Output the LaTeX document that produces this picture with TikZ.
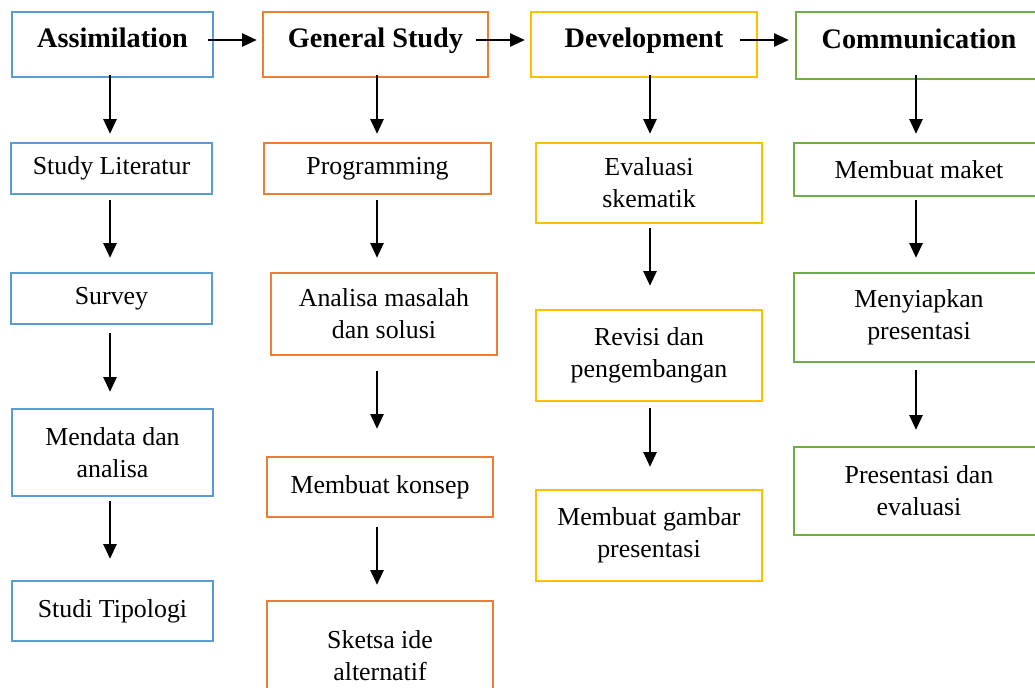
\documentclass[tikz,border=0pt]{standalone}
\usepackage{fontspec}
\setmainfont{Liberation Serif}
\usepackage{xcolor}
\usepackage{tikz}
\usetikzlibrary{arrows.meta}
\definecolor{blue}{RGB}{91,155,213}
\definecolor{orange}{RGB}{237,125,49}
\definecolor{yellow}{RGB}{255,192,0}
\definecolor{green}{RGB}{112,173,71}

\begin{document}
\begin{tikzpicture}[
    x=0.75pt, y=-0.75pt,
    every node/.style={font=\fontsize{19.4}{24}\selectfont, align=center, inner sep=0pt, line width=1.9pt},
    box/.style 2 args={minimum width=#1*0.75pt, minimum height=#2*0.75pt},
    header/.style={font=\fontsize{21.2}{26}\selectfont\bfseries, text height=15pt, text depth=11pt},
    flow/.style={-{Triangle[length=11pt, width=10pt]}, line width=1.1pt}
]
\clip (0,0) rectangle (1035,687);

\node[draw=blue, box={201}{65}, header] (asim) at (112.5,44.5) {Assimilation};
\node[draw=blue, box={201}{51}] (studi) at (111.5,168.5) {Study Literatur};
\node[draw=blue, box={201}{51}] (survey) at (111.5,298.5) {Survey};
\node[draw=blue, box={201}{87}] (mendata) at (112.5,452.5) {Mendata dan\\analisa};
\node[draw=blue, box={201}{60}] (tipologi) at (112.5,611) {Studi Tipologi};

\node[draw=orange, box={225}{65}, header] (general) at (375.5,44.5) {General Study};
\node[draw=orange, box={227}{51}] (program) at (377.5,168.5) {Programming};
\node[draw=orange, box={226}{82}] (analisa) at (384,314) {Analisa masalah\\dan solusi};
\node[draw=orange, box={226}{60}] (konsep) at (380,487) {Membuat konsep};
\node[draw=orange, box={226}{110}] (sketsa) at (380,656) {Sketsa ide\\alternatif};

\node[draw=yellow, box={226}{65}, header] (develop) at (644,44.5) {Development};
\node[draw=yellow, box={226}{80}] (evaluasi) at (649,183) {Evaluasi\\skematik};
\node[draw=yellow, box={226}{91}] (revisi) at (649,355.5) {Revisi dan\\pengembangan};
\node[draw=yellow, box={226}{91}] (gambar) at (649,535.5) {Membuat gambar\\presentasi};

\node[draw=green, box={246}{67}, header] (komunikasi) at (919,45.5) {Communication};
\node[draw=green, box={250}{53}] (maket) at (919,169.5) {Membuat maket};
\node[draw=green, box={250}{89}] (menyiapkan) at (919,317.5) {Menyiapkan\\presentasi};
\node[draw=green, box={250}{88}] (presentasi) at (919,491) {Presentasi dan\\evaluasi};

\coordinate (row) at (0,40);
\coordinate (k1) at (110,0);
\coordinate (k2) at (377,0);
\coordinate (k3) at (650,0);
\coordinate (k4) at (916,0);

\draw[flow, shorten <=-4.5pt, shorten >=3.75pt] (asim.east |- row) -- (general.west |- row);
\draw[flow, shorten <=-9.75pt, shorten >=3.75pt] (general.east |- row) -- (develop.west |- row);
\draw[flow, shorten <=-13.5pt, shorten >=4.5pt] (develop.east |- row) -- (komunikasi.west |- row);

\draw[flow, shorten <=-2.25pt, shorten >=6pt] (asim.south -| k1) -- (studi.north -| k1);
\draw[flow, shorten <=3.75pt, shorten >=10.5pt] (studi.south -| k1) -- (survey.north -| k1);
\draw[flow, shorten <=6pt, shorten >=12pt] (survey.south -| k1) -- (mendata.north -| k1);
\draw[flow, shorten <=3pt, shorten >=15.75pt] (mendata.south -| k1) -- (tipologi.north -| k1);

\draw[flow, shorten <=-2.25pt, shorten >=6pt] (general.south -| k2) -- (program.north -| k2);
\draw[flow, shorten <=3.75pt, shorten >=10.5pt] (program.south -| k2) -- (analisa.north -| k2);
\draw[flow, shorten <=11.25pt, shorten >=20.25pt] (analisa.south -| k2) -- (konsep.north -| k2);
\draw[flow, shorten <=6.75pt, shorten >=11.25pt] (konsep.south -| k2) -- (sketsa.north -| k2);

\draw[flow, shorten <=-2.25pt, shorten >=6pt] (develop.south -| k3) -- (evaluasi.north -| k3);
\draw[flow, shorten <=3pt, shorten >=17.25pt] (evaluasi.south -| k3) -- (revisi.north -| k3);
\draw[flow, shorten <=4.5pt, shorten >=16.5pt] (revisi.south -| k3) -- (gambar.north -| k3);

\draw[flow, shorten <=-3.75pt, shorten >=6pt] (komunikasi.south -| k4) -- (maket.north -| k4);
\draw[flow, shorten <=2.25pt, shorten >=10.5pt] (maket.south -| k4) -- (menyiapkan.north -| k4);
\draw[flow, shorten <=5.25pt, shorten >=12pt] (menyiapkan.south -| k4) -- (presentasi.north -| k4);
\end{tikzpicture}
\end{document}
